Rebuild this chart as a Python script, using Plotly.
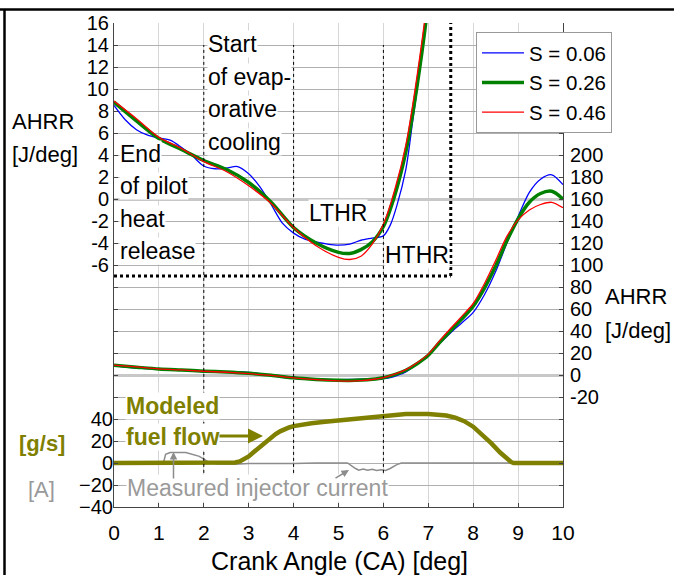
import plotly.graph_objects as go

# ---------------- data ----------------
ca_b = [0, 0.25, 0.5, 0.75, 1, 1.25, 1.5, 1.75, 2, 2.25, 2.5, 2.75, 3, 3.25, 3.5, 3.75, 4, 4.25, 4.5,
        4.75, 5, 5.25, 5.5, 5.75, 6, 6.15, 6.3, 6.5, 6.65, 6.8, 7, 7.25, 7.5, 7.75, 8, 8.25, 8.5,
        8.75, 9, 9.25, 9.5, 9.75, 10]
ahrr_b = [8.5, 7.2, 6.3, 5.8, 5.55, 5.35, 4.7, 3.9, 3.0, 2.75, 2.8, 2.95, 2.3, 1.1, -0.5, -2.2, -3.1,
          -3.65, -3.9, -4.1, -4.2, -4.1, -3.75, -3.55, -3.35, -2.4, -0.6, 2.7, 7.0, 11.5, 18, 28.5, 38.5,
          47.5, 57, 73, 94, 120, 144, 166, 178, 182, 173]

ca_g = [0, 0.5, 1, 1.5, 2, 2.5, 3, 3.5, 4, 4.5, 5, 5.25, 5.5, 5.75, 6, 6.25, 6.5, 6.75, 7, 7.25,
        7.5, 7.75, 8, 8.25, 8.5, 8.75, 9, 9.25, 9.5, 9.75, 10]
ahrr_g = [8.8, 7.1, 5.5, 4.5, 3.5, 2.7, 1.5, -0.3, -2.6, -4.0, -4.85, -4.95, -4.6, -3.9, -2.5, 0.3,
          4.3, 10.3, 18, 29.5, 40.5, 51, 62.5, 79, 99, 122, 142, 157, 165, 167, 160]

ca_r = [0, 0.5, 1, 1.5, 2, 2.5, 3, 3.5, 4, 4.5, 5, 5.25, 5.5, 5.75, 6, 6.25, 6.5, 6.75, 7, 7.25,
        7.5, 7.75, 8, 8.25, 8.5, 8.75, 9, 9.25, 9.5, 9.75, 10]
ahrr_r = [8.9, 7.3, 5.6, 4.6, 3.4, 2.5, 1.2, -0.4, -2.6, -4.25, -5.3, -5.5, -5.2, -4.1, -2.3, 0.8,
          4.9, 11.2, 19, 31, 42.5, 53.5, 65, 83, 104, 126, 141, 150, 155, 157, 152]

ca_fuel = [0, 2.6, 2.7, 2.8, 2.9, 3.0, 3.1, 3.2, 3.3, 3.4, 3.5, 3.6, 3.7, 3.8, 3.9, 4.0, 4.2, 4.4,
           4.7, 5.0, 5.5, 6.0, 6.5, 7.0, 7.2, 7.4, 7.6, 7.8, 8.0, 8.2, 8.4, 8.6, 8.75, 8.85, 8.9, 10]
fuel = [0, 0, 0.4, 1.4, 3.2, 6, 9.5, 13, 16.5, 20, 23.3, 26.3, 28.8, 30.8, 32.3, 33.5, 35, 36.2,
        37.5, 38.5, 40.5, 42.8, 44.5, 44.6, 44.3, 43.2, 41.2, 38, 33, 26, 18, 9.5, 3.5, 0.8, 0, 0]

ca_cur = [0, 1.1, 1.15, 1.25, 1.6, 1.75, 1.9, 2.0, 2.1, 2.3, 2.5, 2.65, 2.8, 3.0, 4.0, 4.5, 5.2,
          5.3, 5.38, 5.45, 5.55, 5.65, 5.75, 5.85, 5.95, 6.05, 6.15, 6.3, 6.4, 10]
current = [0, 0, 8, 9.5, 9.5, 8, 6, 3.5, 1, -1, -1.5, -1.2, -0.8, -0.5, -0.5, 0, 0, -3, -5, -6.5,
           -5.5, -6.5, -5.8, -6.8, -6.2, -6.8, -5, -1.5, 0, 0]

series = [("S = 0.06", ca_b, ahrr_b, "#0000ff", 1.3),
          ("S = 0.26", ca_g, ahrr_g, "#008000", 3.5),
          ("S = 0.46", ca_r, ahrr_r, "#ff0000", 1.3)]

OLIVE = "#808000"
GRAYC = "#8c8c8c"
FONT = "Liberation Sans, Arial, sans-serif"

fig = go.Figure()

# zoomed AHRR (left axis)
for name, xs, ys, col, w in series:
    fig.add_trace(go.Scatter(x=xs, y=ys, mode="lines", name=name, yaxis="y",
                             line=dict(color=col, width=w, shape="spline", smoothing=0.8)))
# full AHRR (right axis)
for name, xs, ys, col, w in series:
    fig.add_trace(go.Scatter(x=xs, y=ys, mode="lines", name=name, yaxis="y2", showlegend=False,
                             line=dict(color=col, width=w, shape="spline", smoothing=0.8)))
# injector current and fuel flow
fig.add_trace(go.Scatter(x=ca_cur, y=current, mode="lines", yaxis="y3", showlegend=False,
                         line=dict(color=GRAYC, width=1.5)))
fig.add_trace(go.Scatter(x=ca_fuel, y=fuel, mode="lines", yaxis="y3", showlegend=False,
                         line=dict(color=OLIVE, width=4.5)))

L, R, T, B, W, H = 114, 111, 23, 68, 674, 575
PW, PH = W - L - R, H - T - B


def px(x):
    return (x - L) / PW


def py(y):
    return (H - B - y) / PH


left_vals = list(range(-28, 17, 2))
right_vals = list(range(-120, 321, 20))
tickfont = dict(size=21, color="black", family=FONT)
ytickfont = dict(size=20, color="black", family=FONT)

fig.update_layout(
    width=W, height=H, margin=dict(l=L, r=R, t=T, b=B),
    paper_bgcolor="white", plot_bgcolor="white",
    font=dict(family=FONT, color="black"),
    xaxis=dict(range=[0, 10], tickvals=list(range(0, 11)), ticks="inside", ticklen=4,
               tickcolor="#444", showline=True, linecolor="#444", linewidth=1,
               showgrid=True, gridcolor="#d6d6d6", zeroline=False, tickfont=tickfont,
               ticklabelstandoff=7),
    yaxis=dict(range=[-28, 16], tickvals=left_vals,
               ticktext=[str(v) if v >= -6 else "" for v in left_vals],
               ticks="inside", ticklen=4, tickcolor="#444", showline=True, linecolor="#444",
               showgrid=True, gridcolor="#b0b0b0", zeroline=True, zerolinecolor="#c8c8c8",
               zerolinewidth=3, tickfont=ytickfont),
    yaxis2=dict(range=[-120, 320], overlaying="y", side="right", anchor="x", tickvals=right_vals,
                ticktext=[str(v) if -20 <= v <= 200 else "" for v in right_vals],
                ticks="inside", ticklen=4, tickcolor="#444", showline=True, linecolor="#444",
                showgrid=False, zeroline=True, zerolinecolor="#c8c8c8", zerolinewidth=3,
                tickfont=ytickfont, ticklabelstandoff=2),
    yaxis3=dict(range=[-40, 400], overlaying="y", side="left", anchor="x",
                tickvals=[-40, -20, 0, 20, 40], ticks="inside", ticklen=4, tickcolor="#444",
                showline=False, showgrid=False, zeroline=False, tickfont=ytickfont),
    legend=dict(x=px(476), y=py(32), xanchor="left", yanchor="top", bgcolor="white",
                bordercolor="#999", borderwidth=1, font=dict(size=20.5, family=FONT),
                itemwidth=42, tracegroupgap=0),
    showlegend=True,
)

# dotted guide lines
shapes = []
for xv in [2, 4, 6]:
    shapes.append(dict(type="line", xref="x", yref="y", x0=xv, x1=xv, y0=-24.9, y1=14,
                       line=dict(color="black", width=1, dash="dot")))
shapes.append(dict(type="line", xref="x", yref="y", x0=0, x1=7.5, y0=-7, y1=-7,
                   line=dict(color="black", width=3, dash="dot")))
shapes.append(dict(type="line", xref="x", yref="y", x0=7.5, x1=7.5, y0=-7, y1=16,
                   line=dict(color="black", width=3, dash="dot")))
# outer frame (top and left)
shapes.append(dict(type="line", xref="paper", yref="paper", x0=px(0), x1=px(W), y0=py(9.5),
                   y1=py(9.5), line=dict(color="black", width=2.5)))
shapes.append(dict(type="line", xref="paper", yref="paper", x0=px(4.5), x1=px(4.5), y0=py(9.5),
                   y1=py(H + 5), line=dict(color="black", width=2.5)))
fig.update_layout(shapes=shapes)

ann = []


def text(s, x, y, xanchor="left", size=23, color="black", bold=False, bg="white"):
    a = dict(text=("<b>%s</b>" % s) if bold else s, x=px(x), y=py(y), xref="paper",
             yref="paper", xanchor=xanchor, yanchor="middle", showarrow=False,
             font=dict(size=size, color=color, family=FONT), borderpad=0)
    if bg:
        a["bgcolor"] = bg
    ann.append(a)


for i, s in enumerate(["Start", "of evap-", "orative", "cooling"]):
    text(s, 207, 44 + i * 32.5)
for i, s in enumerate(["End", "of pilot", "heat", "release"]):
    text(s, 119, 154 + i * 32.3)
text("LTHR", 338, 213, xanchor="center")
text("HTHR", 417, 255, xanchor="center")
text("Modeled", 125, 406, color=OLIVE, bold=True)
text("fuel flow", 125, 437, color=OLIVE, bold=True)
text("Measured injector current", 126, 488, color="#9a9a9a", size=23)
# axis titles
text("AHRR", 11, 121, size=22, bg=None)
text("[J/deg]", 11, 154, size=22, bg=None)
text("AHRR", 604, 296, size=22, bg=None)
text("[J/deg]", 604, 330, size=22, bg=None)
text("[g/s]", 66, 443, xanchor="right", size=22, color=OLIVE, bold=True, bg=None)
text("[A]", 56, 489, xanchor="right", size=22, color="#999999", bg=None)
text("Crank Angle (CA) [deg]", 339, 561, xanchor="center", size=25, bg=None)


def arrow(hx, hy, tx, ty, color, width):
    ann.append(dict(x=px(hx), y=py(hy), ax=tx - hx, ay=ty - hy, xref="paper", yref="paper",
                    axref="pixel", ayref="pixel", text="", showarrow=True, arrowhead=2,
                    arrowsize=1, arrowwidth=width, arrowcolor=color))


arrow(263, 436, 218, 436, OLIVE, 3)
arrow(173.5, 452, 173.5, 480, GRAYC, 1.5)
arrow(349, 470, 334, 479, GRAYC, 1.5)
fig.update_layout(annotations=ann)

fig.write_html("out.html")
